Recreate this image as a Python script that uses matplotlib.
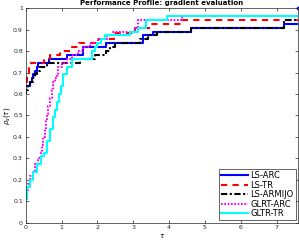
import matplotlib
matplotlib.use("Agg")
import matplotlib.pyplot as plt

# LS-ARC (last point is the isolated dot at the top-right corner)
arc_x = [0, 0.12, 0.17, 0.21, 0.26, 0.31, 0.35, 0.66, 1.14, 1.59, 2.24, 3.28, 3.55, 4.62, 7.22, 7.6]
arc_y = [0.636, 0.655, 0.673, 0.691, 0.709, 0.727, 0.745, 0.764, 0.782, 0.818, 0.836, 0.873, 0.891, 0.909, 0.927, 1.0]
# LS-TR
tr_x = [0, 0.04, 0.08, 0.15, 0.5, 0.68, 0.95, 1.25, 1.5, 2.0, 2.45, 3.05, 3.5, 4.35]
tr_y = [0.655, 0.7, 0.727, 0.745, 0.764, 0.782, 0.8, 0.818, 0.836, 0.855, 0.885, 0.909, 0.927, 0.945]
# LS-ARMIJO
arm_x = [0, 0.02, 0.07, 0.13, 0.21, 0.26, 0.32, 0.4, 0.58, 1.51, 1.93, 2.25, 2.35, 2.5, 3.18, 3.4, 3.65, 4.62, 7.22]
arm_y = [0.6, 0.618, 0.636, 0.655, 0.673, 0.691, 0.709, 0.727, 0.745, 0.764, 0.782, 0.8, 0.818, 0.836, 0.855, 0.873, 0.891, 0.909, 0.945]
# GLRT-ARC
glarc_x = [0, 0.02, 0.05, 0.12, 0.2, 0.26, 0.35, 0.42, 0.46, 0.49, 0.53, 0.56, 0.6, 0.63, 0.67, 0.72,
           0.77, 0.82, 0.86, 0.91, 1.0, 1.14, 1.28, 1.47, 1.6, 1.79, 2.02, 2.26, 2.44, 3.04, 3.14, 4.35]
glarc_y = [0.109, 0.145, 0.182, 0.218, 0.236, 0.273, 0.3, 0.327, 0.364, 0.4, 0.436, 0.473, 0.509, 0.545, 0.582, 0.618,
           0.655, 0.673, 0.691, 0.727, 0.745, 0.764, 0.782, 0.8, 0.818, 0.836, 0.855, 0.873, 0.891, 0.909, 0.945, 0.964]
# GLTR-TR
gltr_x = [0, 0.03, 0.12, 0.21, 0.31, 0.42, 0.5, 0.58, 0.68, 0.77, 0.82, 0.87, 0.94, 0.99, 1.05, 1.14, 1.28,
          1.84, 1.93, 2.0, 2.1, 2.2, 2.9, 3.14, 3.37, 3.93]
gltr_y = [0.109, 0.164, 0.2, 0.236, 0.273, 0.309, 0.327, 0.382, 0.436, 0.491, 0.527, 0.564, 0.6, 0.636, 0.691, 0.727, 0.764,
          0.8, 0.818, 0.836, 0.855, 0.873, 0.891, 0.909, 0.945, 0.964]

x_end = 7.6
x_ticks = [0, 1, 2, 3, 4, 5, 6, 7]
y_ticks = [0, 0.1, 0.2, 0.3, 0.4, 0.5, 0.6, 0.7, 0.8, 0.9, 1]
y_ticklabels = ["0", "0.1", "0.2", "0.3", "0.4", "0.5", "0.6", "0.7", "0.8", "0.9", "1"]

fig = plt.figure(figsize=(2.99, 2.42), dpi=100)
ax = fig.add_axes([0.086, 0.08, 0.911, 0.886])

def ext(xs, ys):
    return list(xs) + [x_end], list(ys) + [ys[-1]]

lw = 1.5
series = [
    (arc_x[:-1], arc_y[:-1], dict(color="#0000ff", linestyle="-", linewidth=lw), "LS-ARC"),
    (tr_x, tr_y, dict(color="#ff0000", linestyle=(0, (3, 2.5)), linewidth=lw), "LS-TR"),
    (arm_x, arm_y, dict(color="#000000", linestyle=(0, (3, 1.2, 1, 1.2)), linewidth=lw), "LS-ARMIJO"),
    (glarc_x, glarc_y, dict(color="#ff00ff", linestyle=(0, (0.8, 0.8)), linewidth=lw), "GLRT-ARC"),
    (gltr_x, gltr_y, dict(color="#00ffff", linestyle="-", linewidth=lw), "GLTR-TR"),
]
for xs, ys, st, lab in series:
    ex, ey = ext(xs, ys)
    ax.step(ex, ey, where="post", label=lab, **st)
ax.plot(arc_x[-1:], arc_y[-1:], linestyle="none", marker="o", markersize=1.6,
        color="#0000ff", clip_on=False)

ax.set_xlim(0, x_end)
ax.set_ylim(0, 1)
ax.set_xticks(x_ticks)
ax.set_yticks(y_ticks)
ax.set_yticklabels(y_ticklabels)
ax.tick_params(direction="in", length=2.5, width=0.5, labelsize=4.5, pad=2,
               top=True, right=True, colors="#262626")
for s in ax.spines.values():
    s.set_linewidth(0.5)
    s.set_color("#262626")

ax.set_title("Performance Profile: gradient evaluation", fontsize=5, fontweight="bold", pad=2)
ax.set_xlabel(r"$\tau$", fontsize=5, labelpad=1)
ax.set_ylabel(r"$\rho_s(\tau)$", fontsize=5, labelpad=1)

leg = ax.legend(loc="lower right", fontsize=6, handlelength=3.2, handletextpad=0.3,
                borderpad=0.25, labelspacing=0.05, borderaxespad=0.3, fancybox=False,
                framealpha=1, edgecolor="#262626")
leg.get_frame().set_linewidth(0.5)

fig.savefig("out.png", dpi=100)
